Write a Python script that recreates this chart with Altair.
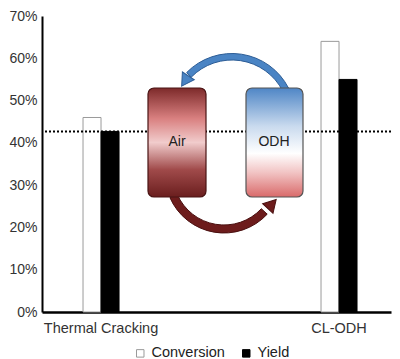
import altair as alt
import pandas as pd

categories = ["Thermal Cracking", "CL-ODH"]
series = ["Conversion", "Yield"]
conversion = [46.0, 64.0]
yield_vals = [42.7, 55.0]
reference_level = [42.7]
y_ticks = [0, 10, 20, 30, 40, 50, 60, 70]

rows = []
for c, cv, yv in zip(categories, conversion, yield_vals):
    rows.append({"category": c, "series": "Conversion", "value": cv})
    rows.append({"category": c, "series": "Yield", "value": yv})
df = pd.DataFrame(rows)
ref_df = pd.DataFrame({"value": reference_level})
one = pd.DataFrame({"k": [0]})

FONT = "Liberation Sans"
W, H = 349, 296
DY = -3  # shift of the inset diagram relative to the plot top

x = alt.X(
    "category:N", sort=categories,
    scale=alt.Scale(domain=categories, paddingInner=0.8487, paddingOuter=0.15756, align=0.547),
    axis=alt.Axis(title=None, labelAngle=0, ticks=False, domainColor="black", domainWidth=2.5,
                  labelFontSize=14.5, labelFont=FONT, labelColor="#333333", labelPadding=9),
)
y = alt.Y(
    "value:Q", scale=alt.Scale(domain=[0, 70], nice=False, zero=True),
    axis=alt.Axis(title=None, values=y_ticks, labelExpr="datum.value + '%'", ticks=False, grid=False,
                  domainColor="black", domainWidth=2, labelFontSize=14, labelFont=FONT,
                  labelColor="#333333", labelPadding=5),
)

leg = alt.Legend(title=None, orient="none", legendX=91, legendY=330, direction="horizontal",
                 symbolType="square", symbolSize=56, symbolStrokeWidth=1, labelFontSize=14.5,
                 labelFont=FONT, labelColor="#222222", columnPadding=14, labelOffset=4)

bars = alt.Chart(df).mark_bar(strokeWidth=1).encode(
    x=x, y=y,
    xOffset=alt.XOffset("series:N", sort=series,
                        scale=alt.Scale(domain=series, paddingInner=0, paddingOuter=0)),
    fill=alt.Fill("series:N", scale=alt.Scale(domain=series, range=["white", "black"]), legend=leg),
    stroke=alt.Stroke("series:N", scale=alt.Scale(domain=series, range=["#9a9a9a", "black"]), legend=leg),
)

rule = alt.Chart(ref_df).mark_rule(color="black", strokeWidth=2, strokeDash=[2, 2]).encode(y=y)

air_grad = alt.Gradient(
    gradient="linear", x1=0, x2=0, y1=0, y2=1,
    stops=[alt.GradientStop(offset=0, color="#7d2a2a"),
           alt.GradientStop(offset=0.28, color="#d98080"),
           alt.GradientStop(offset=0.5, color="#f1cccc"),
           alt.GradientStop(offset=0.75, color="#a04a4a"),
           alt.GradientStop(offset=1, color="#6a1e1e")],
)
odh_grad = alt.Gradient(
    gradient="linear", x1=0, x2=0, y1=0, y2=1,
    stops=[alt.GradientStop(offset=0, color="#4f86c6"),
           alt.GradientStop(offset=0.35, color="#c9daee"),
           alt.GradientStop(offset=0.6, color="#ffffff"),
           alt.GradientStop(offset=0.78, color="#f1c2c2"),
           alt.GradientStop(offset=1, color="#d96a6a")],
)

top_arc = alt.Chart(one).mark_arc(
    innerRadius=57, outerRadius=63.5, theta=5.487, theta2=7.38,
    fill="#4a84c4", stroke="#2d5d96", strokeWidth=1,
).encode(x=alt.value(190), y=alt.value(104 + DY))

bottom_arc = alt.Chart(one).mark_arc(
    innerRadius=51, outerRadius=59, theta=2.32, theta2=4.30,
    fill="#6d1c1c", stroke="#4a1010", strokeWidth=1,
).encode(x=alt.value(182), y=alt.value(161 + DY))

air_box = alt.Chart(one).mark_rect(cornerRadius=6, fill=air_grad, stroke="#4a1414", strokeWidth=1.2).encode(
    x=alt.value(106), x2=alt.value(164), y=alt.value(75 + DY), y2=alt.value(184 + DY))
odh_box = alt.Chart(one).mark_rect(cornerRadius=6, fill=odh_grad, stroke="#555555", strokeWidth=1.2).encode(
    x=alt.value(204), x2=alt.value(261), y=alt.value(75 + DY), y2=alt.value(184 + DY))

air_text = alt.Chart(one).mark_text(text="Air", fontSize=14, font=FONT, color="#222222").encode(
    x=alt.value(135), y=alt.value(129 + DY))
odh_text = alt.Chart(one).mark_text(text="ODH", fontSize=14, font=FONT, color="#222222").encode(
    x=alt.value(232), y=alt.value(129 + DY))

head_top = alt.Chart(one).mark_point(shape="triangle-up", filled=True, size=200, angle=213,
                                     fill="#4a84c4", stroke="#2d5d96", strokeWidth=1, opacity=1).encode(
    x=alt.value(143), y=alt.value(68 + DY))
head_bottom = alt.Chart(one).mark_point(shape="triangle-up", filled=True, size=200, angle=43,
                                        fill="#6d1c1c", stroke="#4a1010", strokeWidth=1, opacity=1).encode(
    x=alt.value(230), y=alt.value(191 + DY))

chart = alt.layer(
    bars, rule, top_arc, bottom_arc, air_box, odh_box, air_text, odh_text, head_top, head_bottom
).properties(
    width=W, height=H,
    padding={"left": 34, "top": 8, "right": 1, "bottom": 47},
    autosize=alt.AutoSizeParams(type="none"),
).configure_view(stroke=None)

chart.save("out.html", embed_options={"renderer": "svg", "actions": False})
